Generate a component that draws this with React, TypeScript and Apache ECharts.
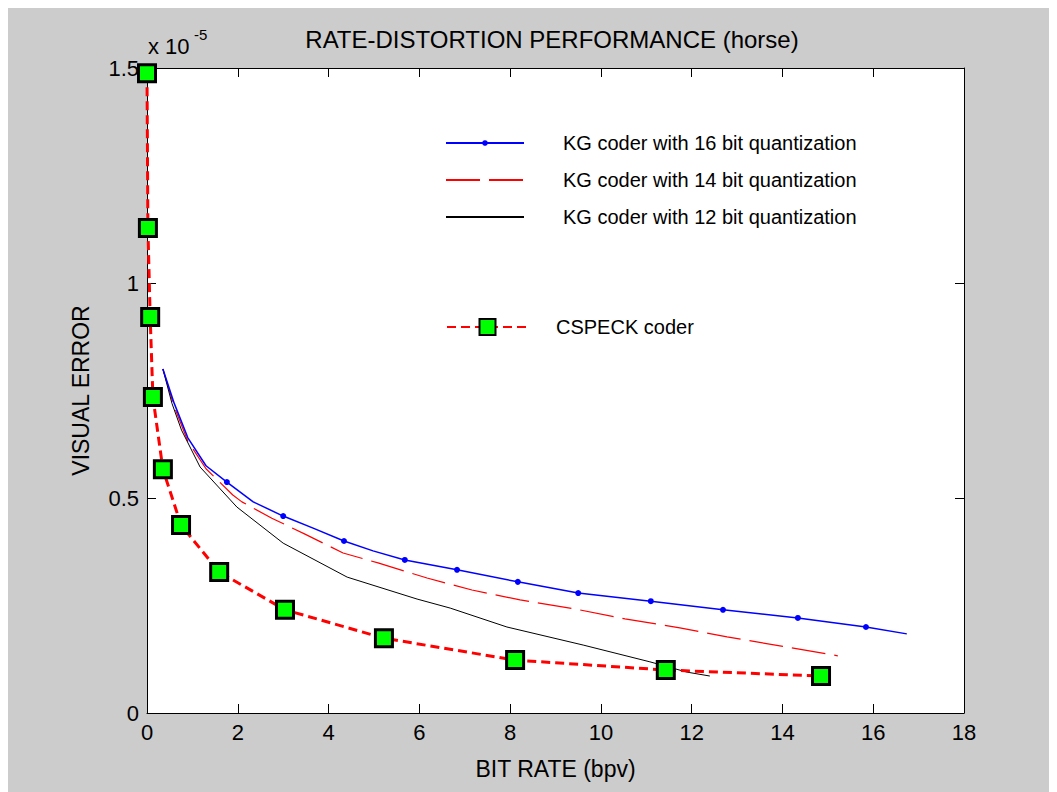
import React, { useEffect, useRef } from "react";
import * as echarts from "echarts";

// Values of VISUAL ERROR are in units of 1e-5 (axis shows "x 10^-5")
const X_TICKS_MAX = 18;
const Y_TICKS_MAX = 1.5;

const KG16_X = [0.35, 0.6, 0.9, 1.3, 1.76, 2.34, 3.0, 3.66, 4.34, 4.98, 5.68, 6.83, 8.17, 9.5, 11.1, 12.69, 14.34, 15.84, 16.74];
const KG16_Y = [0.8, 0.72, 0.64, 0.575, 0.537, 0.491, 0.458, 0.43, 0.4, 0.377, 0.356, 0.333, 0.305, 0.279, 0.26, 0.24, 0.221, 0.2, 0.184];
const KG16_MARKED = [false, false, false, false, true, false, true, false, true, false, true, true, true, true, true, true, true, true, false];

const KG14_X = [0.35, 0.6, 0.9, 1.3, 1.89, 2.09, 2.75, 3.48, 4.32, 5.09, 6.17, 7.16, 8.22, 9.43, 10.53, 11.74, 12.78, 14.01, 15.22];
const KG14_Y = [0.8, 0.712, 0.632, 0.568, 0.507, 0.491, 0.453, 0.416, 0.372, 0.349, 0.314, 0.286, 0.263, 0.242, 0.219, 0.198, 0.177, 0.155, 0.133];

const KG12_X = [0.35, 0.55, 0.76, 1.17, 1.98, 3.0, 4.41, 5.95, 6.68, 7.93, 9.61, 11.08, 11.9, 12.4];
const KG12_Y = [0.8, 0.72, 0.658, 0.572, 0.479, 0.395, 0.316, 0.265, 0.244, 0.2, 0.158, 0.119, 0.095, 0.086];

const CSPECK_X = [0.0, 0.02, 0.07, 0.13, 0.35, 0.75, 1.59, 3.04, 5.22, 8.11, 11.43, 14.85];
const CSPECK_Y = [1.488, 1.128, 0.921, 0.735, 0.567, 0.437, 0.328, 0.24, 0.174, 0.123, 0.1, 0.086];

const NAMES = [
  "KG coder with 16 bit quantization",
  "KG coder with 14 bit quantization",
  "KG coder with 12 bit quantization",
  "CSPECK coder",
];

const FONT = "'Liberation Sans', Arial, sans-serif";

export default function App() {
  const ref = useRef<HTMLDivElement>(null);
  useEffect(() => {
    document.body.style.overflow = "hidden";
    const chart = echarts.init(ref.current!, null, { renderer: "svg" });
    const pts = (xs: number[], ys: number[]) => xs.map((x, i) => [x, ys[i]]);
    const axisCommon = {
      axisLine: { show: true, onZero: false, lineStyle: { color: "#000", width: 1 } },
      axisTick: { show: true, inside: true, length: 9, lineStyle: { color: "#000" } },
      splitLine: { show: false },
    };
    chart.setOption({
      animation: false,
      backgroundColor: "#cccccc",
      title: {
        text: "RATE-DISTORTION PERFORMANCE (horse)",
        left: 544,
        top: 19,
        textAlign: "center",
        padding: 0,
        textStyle: { fontFamily: FONT, fontSize: 24, fontWeight: "normal", color: "#000" },
      },
      grid: { left: 139, top: 60, right: 93, bottom: 79, show: true, backgroundColor: "#fff", borderWidth: 0 },
      xAxis: [
        {
          type: "value",
          min: 0,
          max: X_TICKS_MAX,
          interval: 2,
          name: "BIT RATE (bpv)",
          nameLocation: "middle",
          nameGap: 44,
          nameTextStyle: { fontFamily: FONT, fontSize: 23, color: "#000" },
          axisLabel: { fontFamily: FONT, fontSize: 22, color: "#000", margin: 8 },
          ...axisCommon,
        },
        {
          type: "value",
          position: "top",
          min: 0,
          max: X_TICKS_MAX,
          interval: 2,
          axisLabel: { show: false },
          ...axisCommon,
        },
      ],
      yAxis: [
        {
          type: "value",
          min: 0,
          max: Y_TICKS_MAX,
          interval: 0.5,
          name: "VISUAL ERROR",
          nameLocation: "middle",
          nameGap: 55,
          nameTextStyle: { fontFamily: FONT, fontSize: 23, color: "#000" },
          axisLabel: { fontFamily: FONT, fontSize: 22, color: "#000", margin: 8 },
          ...axisCommon,
        },
        {
          type: "value",
          position: "right",
          min: 0,
          max: Y_TICKS_MAX,
          interval: 0.5,
          axisLabel: { show: false },
          ...axisCommon,
        },
      ],
      legend: [
        {
          data: [
            { name: NAMES[0] },
            { name: NAMES[1], itemStyle: { opacity: 0 } },
            { name: NAMES[2], itemStyle: { opacity: 0 } },
          ],
          orient: "vertical",
          left: 437,
          top: 125,
          padding: 0,
          itemWidth: 78,
          itemHeight: 7,
          itemGap: 17,
          textStyle: { fontFamily: FONT, fontSize: 20, color: "#000", lineHeight: 20, padding: [0, 0, 0, 34] },
        },
        {
          data: [NAMES[3]],
          orient: "vertical",
          left: 438,
          top: 309,
          padding: 0,
          itemWidth: 81,
          itemHeight: 20,
          textStyle: { fontFamily: FONT, fontSize: 20, color: "#000", lineHeight: 20, padding: [0, 0, 0, 23] },
        },
      ],
      graphic: [
        {
          type: "text",
          left: 140,
          top: 27,
          style: { text: "x 10", font: `22px ${FONT}`, fill: "#000" },
        },
        {
          type: "text",
          left: 186,
          top: 19,
          style: { text: "-5", font: `15px ${FONT}`, fill: "#000" },
        },
      ],
      series: [
        {
          name: NAMES[0],
          type: "line",
          clip: false,
          data: pts(KG16_X, KG16_Y).map((p, i) => ({ value: p, symbol: KG16_MARKED[i] ? "circle" : "none" })),
          symbol: "circle",
          symbolSize: 6,
          showAllSymbol: true,
          itemStyle: { color: "#0000ff" },
          lineStyle: { color: "#0000ff", width: 1.5 },
          z: 3,
        },
        {
          name: NAMES[1],
          type: "line",
          data: pts(KG14_X, KG14_Y),
          symbol: "none",
          itemStyle: { color: "#ff0000" },
          lineStyle: { color: "#ff0000", width: 1.2, type: [34, 9] },
          z: 2,
        },
        {
          name: NAMES[2],
          type: "line",
          data: pts(KG12_X, KG12_Y),
          symbol: "none",
          itemStyle: { color: "#000" },
          lineStyle: { color: "#000", width: 1 },
          z: 2,
        },
        {
          name: NAMES[3],
          type: "line",
          clip: false,
          data: pts(CSPECK_X, CSPECK_Y),
          symbol: "rect",
          symbolSize: 17,
          showAllSymbol: true,
          itemStyle: { color: "#00ff00", borderColor: "#000", borderWidth: 3 },
          lineStyle: { color: "#ff0000", width: 3, type: [9, 5] },
          z: 4,
        },
      ],
    });
    return () => chart.dispose();
  }, []);
  return <div ref={ref} style={{ width: 1049, height: 784 }} />;
}
